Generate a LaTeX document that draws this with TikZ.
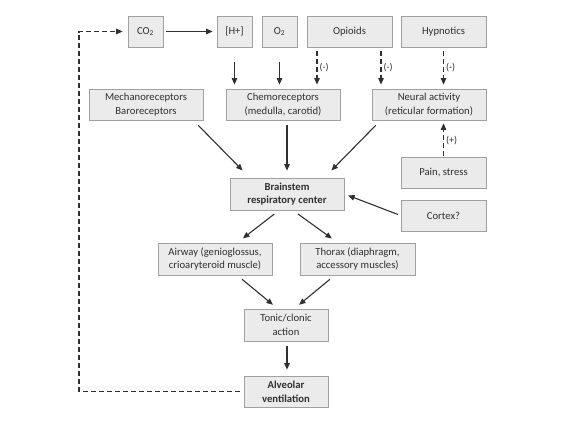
\documentclass[tikz,border=0pt]{standalone}
\usepackage{fontspec}
\setmainfont{Carlito}
\usetikzlibrary{arrows.meta,calc}
\definecolor{boxfill}{HTML}{EBEBEB}
\definecolor{boxline}{HTML}{A0A0A0}
\definecolor{ink}{HTML}{303030}
\begin{document}
\begin{tikzpicture}[x=1bp,y=-1bp,
  box/.style={draw=boxline, fill=boxfill, line width=0.8bp, minimum height=31bp, inner sep=0pt, align=center, font=\fontsize{10.7}{13.8}\selectfont, text=ink},
  boldbox/.style={box, font=\fontsize{10.7}{13.8}\selectfont\bfseries},
  arr/.style={draw=ink, line width=1.1bp, -{Triangle[length=6.5bp,width=5.5bp]}},
  darr/.style={arr, dash pattern=on 5bp off 3bp},
  lbl/.style={font=\fontsize{10}{12}\selectfont, text=ink, inner sep=2bp}]
\useasboundingbox[fill=white] (0,0) rectangle (566,424);

\node[box, minimum width=35bp] (co2) at (145.5,31.5) {CO\textsubscript{2}};
\node[box, minimum width=35bp] (hp) at (234.5,31.5) {[H+]};
\node[box, minimum width=35bp] (o2) at (279.5,31.5) {O\textsubscript{2}};
\node[box, minimum width=85bp] (opi) at (349.5,31.5) {Opioids};
\node[box, minimum width=85bp] (hyp) at (443.5,31.5) {Hypnotics};
\node[box, minimum width=114bp] (mech) at (146,104.5) {Mechanoreceptors\\Baroreceptors};
\node[box, minimum width=114bp] (chemo) at (283,104.5) {Chemoreceptors\\(medulla, carotid)};
\node[box, minimum width=114bp] (neural) at (429,104.5) {Neural activity\\(reticular formation)};
\node[box, minimum width=85bp] (pain) at (443.5,172.5) {Pain, stress};
\node[boldbox, minimum width=114bp, minimum height=32bp] (brain) at (287,194) {Brainstem\\respiratory center};
\node[box, minimum width=85bp] (cortex) at (443.5,215.5) {Cortex?};
\node[box, minimum width=114bp, minimum height=32bp] (airway) at (215,259) {Airway (genioglossus,\\crioaryteroid muscle)};
\node[box, minimum width=115bp, minimum height=32bp] (thorax) at (357.5,259) {Thorax (diaphragm,\\accessory muscles)};
\node[box, minimum width=84bp, minimum height=32bp] (tonic) at (286,325) {Tonic/clonic\\action};
\node[boldbox, minimum width=84bp] (alv) at (286,391.5) {Alveolar\\ventilation};
\coordinate (fb) at (79,31.5);

\draw[arr, shorten <=3bp, shorten >=4bp] (co2.east) -- (hp.west);
\draw[arr, shorten <=15bp, shorten >=4bp] (hp.south) -- (hp.south |- chemo.north);
\draw[arr, shorten <=15bp, shorten >=4bp] (o2.south) -- (o2.south |- chemo.north);
\draw[darr, shorten <=4bp, shorten >=4bp] ([xshift=-32.5bp]opi.south) -- ([xshift=-32.5bp]opi.south |- chemo.north) node[lbl, midway, right] {(-)};
\draw[darr, shorten <=4bp, shorten >=4bp] ([xshift=31.5bp]opi.south) -- ([xshift=31.5bp]opi.south |- neural.north) node[lbl, midway, right] {(-)};
\draw[darr, shorten <=4bp, shorten >=4bp] (hyp.south) -- (hyp.south |- neural.north) node[lbl, midway, right] {(-)};
\draw[darr, shorten <=1bp, shorten >=3bp] (pain.north) -- (pain.north |- neural.south) node[lbl, midway, right, yshift=-2bp] {(+)};

\draw[arr, shorten <=7bp, shorten >=10bp] ([xshift=-10bp]mech.south east) -- ([xshift=20bp]brain.north west);
\draw[arr, shorten <=5bp, shorten >=7bp] ([xshift=4bp]chemo.south) -- ([xshift=4bp]chemo.south |- brain.north);
\draw[arr, shorten <=7bp, shorten >=10bp] ([xshift=9bp]neural.south west) -- ([xshift=-20bp]brain.north east);
\draw[arr, shorten <=6bp, shorten >=7bp] ([xshift=-8bp]brain.south) -- ([xshift=-35bp]airway.north east);
\draw[arr, shorten <=6bp, shorten >=7bp] ([xshift=6bp]brain.south) -- ([xshift=38bp]thorax.north west);
\draw[arr, shorten <=6bp, shorten >=6bp] ([xshift=-35bp]airway.south east) -- ([xshift=34bp]tonic.north west);
\draw[arr, shorten <=6bp, shorten >=6bp] ([xshift=35bp]thorax.south west) -- ([xshift=-34bp]tonic.north east);
\draw[arr, shorten <=5bp, shorten >=6bp] ([xshift=1bp]tonic.south) -- ([xshift=1bp]alv.north);
\draw[arr, shorten <=3bp, shorten >=4bp] (cortex.west) -- (brain.east);
\draw[darr, shorten <=4bp, shorten >=5bp] (alv.west) -| (fb) -- (co2.west);
\end{tikzpicture}
\end{document}
